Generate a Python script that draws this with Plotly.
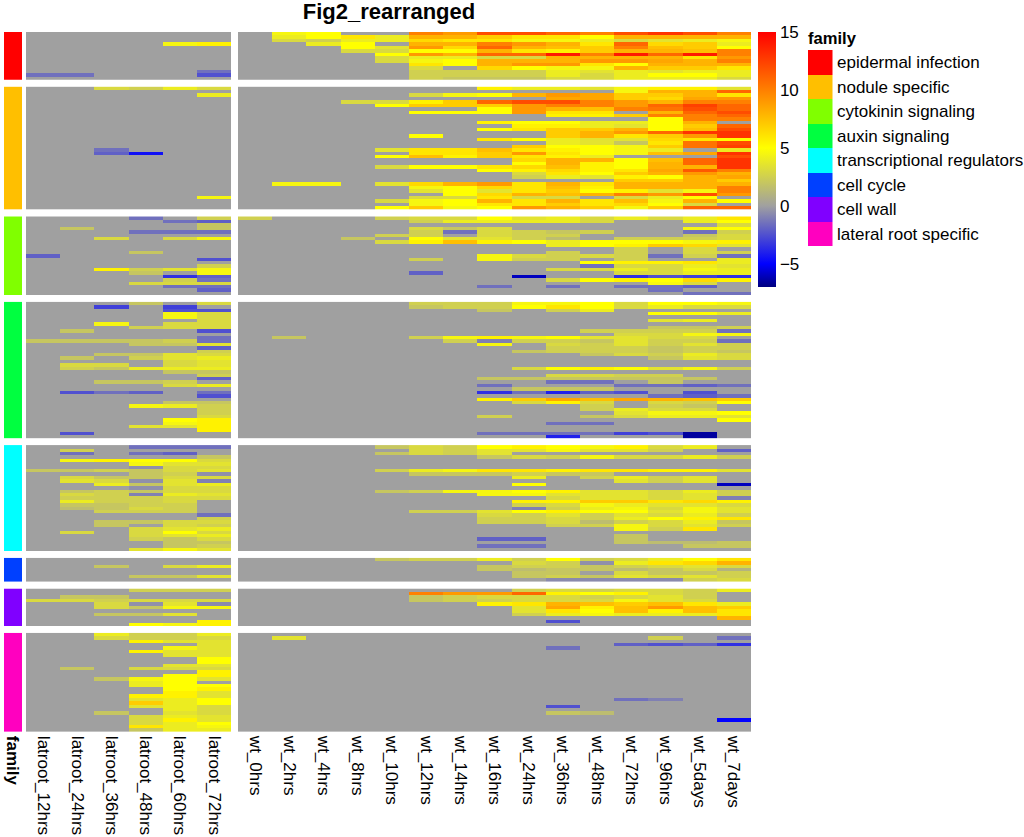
import plotly.graph_objects as go

lat_cols = ["latroot_12hrs","latroot_24hrs","latroot_36hrs","latroot_48hrs","latroot_60hrs","latroot_72hrs"]
wt_cols = ["wt_0hrs","wt_2hrs","wt_4hrs","wt_8hrs","wt_10hrs","wt_12hrs","wt_14hrs","wt_16hrs","wt_24hrs","wt_36hrs","wt_48hrs","wt_72hrs","wt_96hrs","wt_5days","wt_7days"]
families = ["epidermal infection","nodule specific","cytokinin signaling","auxin signaling","transcriptional regulators","cell cycle","cell wall","lateral root specific"]
family_colors = ["#FF0000","#FFBF00","#80FF00","#00FF40","#00FFFF","#0040FF","#8000FF","#FF00BF"]

lat_epidermal = [
[0,0,0,0,0,0],[0,0,0,0,0,0],[0,0,0,0,0,0],[0,0,0,0,4.5,5.5],[0,0,0,0,0,0],[0,0,0,0,0,0],[0,0,0,0,0,0],
[0,0,0,0,0,0],[0,0,0,0,0,0],[0,0,0,0,0,0],[0,0,0,0,0,0],[0,0,0,0,0,-1.5],[-1.5,-1.5,0,0,0,-2.5],[0,0,0,0,0,0]]
wt_epidermal = [
[0,4.5,5,0,0,10,9,12,12,11,10,12,13,12,10],
[0,4,5,6,4,8,8,7,6,6,5,8,8,8,8],
[0,3,2.5,4,4,6.5,6,6,4.5,4.5,4,3,3.5,4,4.5],
[0,0,4,5,0,8,8,10,9,8,6,11,6.5,7,4],
[0,0,0,5,3.5,9,6.5,11,8,7.5,7,10,7.5,7,5],
[0,0,0,3,3,5,5,8,6,5.5,7,8,8,7.5,10],
[0,0,0,0,5,9,8,11,11,14,10,14,11,14,10],
[0,0,0,0,3,4,4,3,3,8,8,8,8,6,9],
[0,0,0,0,3,4.5,5,8,8,8,9,9,8.5,8,10],
[0,0,0,0,0,6,5,8,9,9,6,5,8,8,8],
[0,0,0,0,0,3,0,6.5,5,4.5,4.5,8,7,7,6],
[0,0,0,0,0,2.5,2.5,2.5,2.5,4,3.5,4,3.5,4,4],
[0,0,0,0,0,2.5,2.5,2.5,2.5,4,3,4,5,5,4],
[0,0,0,0,0,2.5,2,2,2,3,3,4,4,4,3]]

lat_nodule = [[0,0,3,2.5,4,3],[0,0,0,0,0,0],[0,0,0,0,0,4]] + [[0,0,0,0,0,0] for _r in range(15)] + [[0,0,-1.5,0,0,0],[0,0,-2,-4.5,0,0]] + [[0,0,0,0,0,0] for _r in range(12)] + [[0,0,0,0,0,4.5]] + [[0,0,0,0,0,0] for _r in range(3)]
wt_nodule = [
[0,0,0,0,0,0,0,5.5,4,4,3.5,4.5,5.5,5.5,3.5],
[0,0,0,0,0,0,0,0,0,0,0,4.5,8,8,11],
[0,0,0,0,0,3,4.5,5,8,9,8.5,7,7,8,6],
[0,0,0,0,0,0,0,0,0,8.5,8.5,7,6.5,8.5,9],
[0,0,0,3,3,5.5,7,11,12,12,10,9,8,10,10],
[0,0,0,0,5,7,7,7,9,10,10,9,11,12.5,11],
[0,0,0,0,0,0,0,5,9,8,7.5,10,10.5,12,11],
[0,0,0,0,0,5,5,5,9,6,6,0,8,11,12],
[0,0,0,0,0,0,0,0,0,5.5,5.5,7,10,10,11],
[0,0,0,0,0,0,0,0,0,0,0,0,5,10,10],
[0,0,0,0,0,0,0,5.5,5,5,4,4,5,8,0],
[0,0,0,0,0,0,0,0,5.5,5.5,4,3.5,5,7,11],
[0,0,0,0,0,0,0,5,6,7,7,8,5,7.5,12],
[0,0,0,0,0,0,0,0,0,7,8,9,11,13,13],
[0,0,0,0,0,5,0,0,0,7,8,6,7,9,13],
[0,0,0,0,0,0,0,6,5,4,3.5,3.5,6.5,6,5],
[0,0,0,0,0,0,0,0,0,4,3.5,2,6,10.5,12],
[0,0,0,0,0,0,0,0,7,5,5,4.5,7,10.5,12.5],
[0,0,0,0,3.5,6,6,7.5,6,5.5,5,4.5,4,0,4],
[0,0,0,0,0,6,6,7,9,6,5,4.5,7.5,8.5,13],
[0,0,0,0,5,7.5,5.5,7,6,5.5,4,0,0,0,12],
[0,0,0,0,0,0,0,0,6.5,8,8,5,7.5,11,13],
[0,0,0,0,0,0,0,0,5,8,5.5,5,8,11,13],
[0,0,0,0,3,5,5,6,6.5,7.5,5.5,5,8,8,13],
[0,0,0,0,0,0,0,5,5.5,6.5,5.5,6,8.5,11.5,10],
[0,0,0,0,0,0,0,0,3,6,5,7,8,9,8],
[0,0,0,0,0,0,0,0,2.5,4,3.5,5.5,5,8,8.5],
[0,0,0,0,0,0,0,0,0,0,0,7,7,8,7],
[0,4.5,4.5,0,3.5,6.5,8,9,6,8,6,8,8,8,8],
[0,0,0,0,0,4.5,5,6.5,6,7.5,5.5,8,8,8,10],
[0,0,0,0,0,3.5,5,3.5,6,7,5,5.5,3.5,4.5,10],
[0,0,0,0,0,0,5,6.5,8,7.5,8,10,9,12,9],
[0,0,0,0,0,3,3,6,3,3,0,3,4,5,0],
[0,0,0,0,3,4.5,5,8,6,8,6,7.5,4.5,8,5],
[0,0,0,0,0,4.5,5,6,6,7,6,6.5,5,3,0],
[0,0,0,0,5,7,4.5,5,9,8,7,4.5,7,11,11]]

lat_cytokinin = [
[0,0,0,-1.5,0,2.5],[0,0,0,0,-1.5,-2],[0,0,0,0,0,2],[0,2,0,0,0,2],[0,0,0,-1.5,-1.5,-1.5],[0,0,0,0,0,0],
[0,0,3,0,3,4.5],[0,0,0,0,0,0],[0,0,0,0,0,0],[0,0,0,0,0,0],[0,0,0,2,0,0],[-2,0,0,0,0,0],
[0,0,0,0,0,-2.5],[0,0,0,0,0,0],[0,0,0,0,0,2.5],[0,0,5.5,2.5,3.5,4.5],[0,0,0,2,0,4.5],[0,0,0,0,-3.5,-2],
[0,0,0,0,2.5,-1.5],[0,0,0,3,3,3],[0,0,0,0,-1.5,-1.5],[0,0,0,0,0,-2],[0,0,0,0,0,0]]
wt_cytokinin = [
[2.5,0,0,0,2.5,3,3,5,3.5,4,3,4,3,4,6],
[0,0,0,0,0,2.5,4,4,4,4,3,0,0,4,5],
[0,0,0,0,0,0,0,0,0,0,0,0,0,0,3],
[0,0,0,0,0,3,2,3,0,0,0,0,0,4.5,5],
[0,0,0,0,0,2.5,-1.5,3,2.5,2,2.5,0,0,-1.5,2.5],
[0,0,0,0,2.5,2.5,0,3,2.5,2.5,0,0,0,2,3],
[0,0,0,2,0,5,3.5,3.5,2.5,1.5,0,2.5,2.5,2.5,3],
[0,0,0,0,3,5.5,7.5,5.5,5,4,5,5,5,4.5,5.5],
[0,0,0,0,0,0,0,0,0,4,5,5.5,7,6.5,3.5],
[0,0,0,0,0,0,0,0,0,0,0,2.5,0,3,0],
[0,0,0,0,0,0,0,0,0,2.5,0,2.5,0,3,2.5],
[0,0,0,0,0,0,0,4.5,3,2.5,3,2.5,-1.5,2.5,-1.5],
[0,0,0,0,0,2.5,0,4.5,2.5,2.5,0,2.5,0,0,4],
[0,0,0,0,0,0,0,0,0,0,5,5.5,5.5,6,4],
[0,0,0,0,0,0,0,0,0,0,-1.5,3,3,4,3.5],
[0,0,0,0,0,0,0,0,0,3,3,4,3,4.5,4],
[0,0,0,0,0,-2,0,0,0,0,0,3,3,4,4],
[0,0,0,0,0,0,0,0,-6,0,0,-3.5,-2.5,-3,-3.5],
[0,0,0,0,0,0,0,0,0,3,5,5.5,5,6.5,5.5],
[0,0,0,0,0,0,0,0,0,0,0,0,4.5,3,0],
[0,0,0,0,0,0,0,-1.5,0,-1.5,0,-1.5,-1.5,-2,0],
[0,0,0,0,0,0,0,0,0,0,0,0,-1.5,0,0],
[0,0,0,0,0,0,0,0,0,0,0,0,0,-1.5,-1.5]]

lat_auxin = [
[0,0,0,2,0,3],[0,0,-3,0,-3,0],[0,0,0,0,-2.5,-2.5],[0,0,0,0,4.5,3],[0,0,0,0,4.5,3],[0,0,0,0,0,3],
[0,0,4.5,0,3,3],[0,0,0,2.5,3,3],[0,2,0,0,0,-2.5],[0,0,0,0,0,0],[0,0,0,0,0,-1.5],[2,2,2,2,2.5,-1.5],
[0,0,0,2,2,3.5],[0,0,0,0,0,-2],[0,0,0,0,0,2.5],[0,0,2,2,3.5,3],[0,2,0,2.5,3.5,4],[0,0,0,0,3,3.5],
[0,3,3,0,3,3.5],[0,2.5,2,4,4,4],[0,0,0,0,2,2],[0,0,0,0,0,2.5],[0,0,0,0,0,-2],[0,0,2,2,2.5,0],
[0,0,0,0,3,4],[0,0,0,0,0,0],[0,-2.5,-1.5,-2,0,-1.5],[0,0,0,0,0,-2.5],[0,0,0,0,0,0],[0,0,0,0,2,2],
[0,0,0,4.5,4,2.5],[0,0,0,0,0,2.5],[0,0,0,0,0,2.5],[0,0,0,0,0,3],[0,0,0,0,5,5.5],[0,0,0,0,4.5,5.5],
[0,0,0,3.5,3.5,5.5],[0,0,0,0,0,5.5],[0,-2.5,0,0,0,0],[0,0,0,0,0,0]]
wt_auxin = [
[0,0,0,0,0,2.5,2.5,2.5,4.5,4.5,5,3,5,5,4.5],
[0,0,0,0,0,2,2.5,2.5,5,6,5,3,4,3,3],
[0,0,0,0,0,0,0,2,0,2.5,4,0,0,0,0],
[0,0,0,0,0,0,0,0,0,0,0,0,5,5,4],
[0,0,0,0,0,0,0,0,0,0,0,0,0,0,0],
[0,0,0,0,0,0,0,0,0,0,0,0,3.5,4,0],
[0,0,0,0,0,0,0,0,0,0,0,0,0,0,0],
[0,0,0,0,0,0,0,0,0,0,0,0,2,2,2.5],
[0,0,0,0,0,0,0,0,0,0,2.5,2.5,2.5,2.5,-1.5],
[0,0,0,0,0,0,0,0,0,0,0,3,3,4.5,4.5],
[0,2,0,0,0,2.5,4.5,5.5,4.5,5,3.5,3.5,3,3,0],
[0,0,0,0,0,0,2.5,-1,2.5,2.5,2,3.5,2.5,2.5,-1.5],
[0,0,0,0,0,0,0,4.5,0,3,2.5,3.5,2.5,3.5,2.5],
[0,0,0,0,0,0,0,0,0,2.5,2.5,2.5,2,2.5,2.5],
[0,0,0,0,0,0,0,0,2,2.5,2.5,2.5,2,2.5,2],
[0,0,0,0,0,0,0,0,0,0,2,3,2.5,4,3],
[0,0,0,0,0,0,0,0,0,0,0,0,2,3.5,3],
[0,0,0,0,0,0,0,0,0,0,0,0,0,0,0],
[0,0,0,0,0,0,0,0,0,0,0,0,0,0,0],
[0,0,0,0,0,0,0,0,3,5,5.5,5,3.5,4.5,2.5],
[0,0,0,0,0,0,0,0,0,0,0,0,0,0,0],
[0,0,0,0,0,0,0,0,0,3,3,2.5,2.5,0,0],
[0,0,0,0,0,0,0,2,2,2,2,2,2,2,0],
[0,0,0,0,0,0,0,0,0,-1.5,-1.5,0,2,0,0],
[0,0,0,0,0,0,0,-1.5,0,0,0,-1.5,-1.5,-2,-1.5],
[0,0,0,0,0,0,0,0,2,2,2,0,0,0,0],
[0,0,0,0,0,0,0,-3.5,-1.5,-4,-2,-2.5,0,-2.5,0],
[0,0,0,0,0,0,0,0,0,0,0,0,-1.5,-2,-1.5],
[0,0,0,0,0,0,0,5.5,7,8.5,7.5,8.5,8,7.5,7],
[0,0,0,0,0,0,0,0,3,5.5,3,0,3,2.5,5],
[0,0,0,0,0,0,0,0,0,0,2.5,0,2.5,2,0],
[0,0,0,0,0,0,0,0,0,0,2.5,4,3,3,0],
[0,0,0,0,0,0,0,0,0,0,0,3.5,4.5,4.5,5],
[0,0,0,0,0,0,0,2.5,0,0,2,3,4,4,3.5],
[0,0,0,0,0,0,0,0,0,0,0,0,0,0,5],
[0,0,0,0,0,0,0,0,0,-1.5,-1.5,0,0,0,0],
[0,0,0,0,0,0,0,0,0,0,0,0,0,0,0],
[0,0,0,0,0,0,0,0,0,0,0,0,0,0,0],
[0,0,0,0,0,0,0,-1.5,-1.5,-1.5,-1.5,-3,-2.5,-6.5,0],
[0,0,0,0,0,0,0,0,0,-4,0,0,0,-6.5,0]]

lat_transcription = [
[0,0,0,-1.5,-1.5,-1.5],[0,2.5,0,0,0,0],[0,-1.5,0,-1.5,-2,0],[0,0,0,0,0,2],[0,4.5,5.5,5,5,3],
[0,0,0,4.5,3.5,3.5],[0,0,0,-0.5,3,3],[2,2,2.5,2,3,3.5],[0,0,0,2,2.5,-0.5],[0,3,2,2,3,3],
[0,3.5,3,-0.5,3.5,-1],[0,0,4,2,3.5,4],[0,0,0,-0.5,3,3],[0,2,2.5,2,3,3],[0,3,2.5,-1,4,3.5],
[0,2.5,2.5,2.5,3,3],[0,4,2.5,2.5,3,0],[0,2,2,2.5,2.5,0],[0,1.5,2,3,2.5,0],[0,0,2.5,2.5,2.5,0],
[0,0,0,0,0,-1.5],[0,0,0,0,0,2.5],[0,0,2,2,3,3],[0,0,2,0,3,2.5],[0,0,0,3,3.5,4],
[0,3,0,3,5,3],[0,0,0,3,3.5,4],[0,0,0,2.5,2,3],[0,0,0,0,2,2],[0,0,0,0,2,2.5],[0,0,0,3.5,4.5,3.5]]
wt_transcription = [
[0,0,0,0,2,3,2.5,5,5.5,5,4.5,5.5,3,4,0],
[0,0,0,0,0,3,2.5,3.5,3.5,4.5,3.5,3.5,2.5,0,-2],
[0,0,0,0,2,3,2.5,3.5,0,0,0,0,0,0,0],
[0,0,0,0,0,0,0,2,3,2.5,4.5,3,3,4,2.5],
[0,0,0,0,0,0,0,0,0,0,0,0,0,0,0],
[0,0,0,0,0,0,0,0,0,0,0,0,0,0,0],
[0,0,0,0,0,0,0,0,0,0,0,0,0,0,0],
[0,0,0,0,2.5,4,4.5,6,6,5.5,6,6,5.5,5.5,3.5],
[0,0,0,0,0,2,2,2,2.5,2,2,0,0,0,0],
[0,0,0,0,0,0,0,0,4,0,2.5,4,2.5,3.5,0],
[0,0,0,0,0,0,0,0,0,0,0,3.5,2.5,3.5,0],
[0,0,0,0,0,0,0,0,5,0,0,0,0,0,-6],
[0,0,0,0,0,0,0,0,0,0,0,0,0,0,0],
[0,0,0,0,2,2.5,4.5,4.5,5,5.5,3.5,3.5,3,4,2.5],
[0,0,0,0,0,0,0,4.5,4.5,3.5,3.5,3.5,3,3.5,2.5],
[0,0,0,0,0,0,0,0,0,3,3.5,3.5,3,3.5,-1],
[0,0,0,0,0,0,0,0,5.5,5.5,7,7,6,6.5,5.5],
[0,0,0,0,0,0,0,0,2.5,3,4.5,4,3.5,3.5,3],
[0,0,0,0,0,0,0,0,-1,2.5,4,4.5,3,4.5,3.5],
[0,0,0,0,0,2.5,2.5,3.5,5,5.5,5,5,3.5,4.5,3.5],
[0,0,0,0,0,0,0,3,2.5,3.5,2.5,3.5,3,4,2.5],
[0,0,0,0,0,0,0,2.5,2.5,3,2.5,4,5,5.5,6],
[0,0,0,0,0,0,0,2.5,2.5,3,1.5,2.5,3,4,2],
[0,0,0,0,0,0,0,0,0,2.5,2.5,4.5,3,3.5,2.5],
[0,0,0,0,0,0,0,0,0,0,0,4.5,2.5,6,0],
[0,0,0,0,0,0,0,0,0,0,0,0,0,0,0],
[0,0,0,0,0,0,0,0,0,0,0,2,0,0,0],
[0,0,0,0,0,0,0,-2,-2,0,0,2,0,0,0],
[0,0,0,0,0,0,0,0,0,0,0,2,1.5,1.5,2],
[0,0,0,0,0,0,0,-1.5,-1.5,0,0,0,0,2,2],
[0,0,0,0,0,0,0,0,0,0,0,0,0,0,0]]

lat_cycle = [[0,0,0,0,0,0],[0,0,0,0,0,0],[0,0,2,0,3,4],[0,0,0,0,0,0],[0,0,0,0,0,0],[0,0,0,2,2,3.5],[0,0,0,0,0,0]]
wt_cycle = [
[0,0,0,0,2,2.5,2.5,4,2.5,5,2.5,3,4,5,6],
[0,0,0,0,0,0,0,0,3,2.5,-0.5,4,6,6.5,8],
[0,0,0,0,0,0,0,2,2.5,2.5,2,2.5,3,3.5,3],
[0,0,0,0,0,0,0,2,1.5,2,2,1.5,2,3,1],
[0,0,0,0,0,0,0,0,2,2,0,3,2,2,2.5],
[0,0,0,0,0,0,0,0,2,2.5,2,3.5,3,3.5,2.5],
[0,0,0,0,0,0,0,0,0,-0.7,-0.7,-0.7,-0.7,2.5,3]]

lat_wall = [
[0,0,0,2.5,2.5,2.5],[0,0,0,0,0,0],[0,2,2,0,0,0],[3,3,2.5,3,3,3],[0,0,3,-0.5,3.5,-0.7],[0,0,3,2,4.5,4.5],
[0,0,0,0,0,0],[0,0,2,2,3.5,0],[0,0,0,0,0,0],[0,0,0,0,0,5.5],[0,0,0,5,4.5,5.5]]
wt_wall = [
[0,0,0,0,0,0,0,0,2.5,3,2.5,3,3,2.5,4],
[0,0,0,0,0,10,9,9,11,5.5,5,5.5,3,2.5,0],
[0,0,0,0,0,2,2.5,3,3,3,2.5,3,3.5,2.5,0],
[0,0,0,0,0,2,2.5,2.5,3,3,3,4.5,3.5,3,0],
[0,0,0,0,0,0,0,5.5,6,8,7.5,7,7.5,6,4],
[0,0,0,0,0,0,0,0,3.5,8.5,5.5,7.5,9,7.5,7],
[0,0,0,0,0,0,0,0,3.5,6,5,7.5,5.5,7.5,6],
[0,0,0,0,0,0,0,0,2.5,4,4.5,4,4,4,6],
[0,0,0,0,0,0,0,0,0,0,0,0,0,0,8],
[0,0,0,0,0,0,0,0,0,-2.5,0,0,0,0,0],
[0,0,0,0,0,0,0,0,0,0,0,0,0,0,0]]

lat_lateral = [
[0,0,4,2.5,2.5,4],[0,0,3,2.5,2.5,3],[0,0,0,5.5,3.5,3.5],[0,0,0,0,0,3.5],[0,0,0,0,4.5,3.5],
[0,0,0,5.5,3.5,3.5],[0,0,0,0,3.5,3.5],[0,0,0,0,0,5],[0,0,0,0,0,5],[0,0,0,0,3.5,3.5],
[0,2,0,3,3,3],[0,0,0,0,0,5.5],[0,0,0,0,5,5.5],[0,0,2,4.5,5,3.5],[0,0,0,4,5,0],
[0,0,0,4,5,5],[0,0,0,0,5,5.5],[0,0,0,0,5.5,3.5],[0,0,0,5.5,5.5,3.5],[0,0,0,3.5,4,5],
[0,0,0,7,4,5],[0,0,0,3.5,4,3],[0,0,0,0,4,3],[0,0,2,0,3.5,3],[0,0,0,3,4,3.5],
[0,0,0,3,5.5,3.5],[0,0,0,3,4,5],[0,0,0,6,4,4.5],[0,0,0,2,4,4]]
wt_lateral = [[0]*15 for _r in range(29)]
wt_lateral[1] = [0,3.5,0,0,0,0,0,0,0,0,0,0,2.5,0,-1.5]
wt_lateral[3] = [0,0,0,0,0,0,0,0,0,0,0,-2,-2.5,-2,-3.5]
wt_lateral[4] = [0,0,0,0,0,0,0,0,0,-1.5,0,0,0,0,0]
wt_lateral[19] = [0,0,0,0,0,0,0,0,0,0,0,-1.5,-1,0,0]
wt_lateral[21] = [0,0,0,0,0,0,0,0,0,-2.5,0,0,0,0,0]
wt_lateral[23] = [0,0,0,0,0,0,0,0,0,2,1.5,0,0,0,0]
wt_lateral[25] = [0,0,0,0,0,0,0,0,0,0,0,0,0,0,-5]

lat_groups = [lat_epidermal, lat_nodule, lat_cytokinin, lat_auxin, lat_transcription, lat_cycle, lat_wall, lat_lateral]
wt_groups = [wt_epidermal, wt_nodule, wt_cytokinin, wt_auxin, wt_transcription, wt_cycle, wt_wall, wt_lateral]

W, H = 1024, 837
FONT = "Liberation Sans"
ROW_H, GAP, TOP = 3.415, 6.8, 32.0
CELL = 34.2
LAT_X0, WT_X0 = 26.0, 238.0
FAM_X = (4.0, 22.0)


def xd(a, b):
    return [a / W, b / W]


def yd(a, b):
    return [1 - b / H, 1 - a / H]


cs_heat = [
    [0.0, "#00007F"],
    [2 / 22, "#0000FF"],
    [7 / 22, "#A0A0A0"],
    [12 / 22, "#FFFF00"],
    [1.0, "#FF0000"],
]
disc = []
for i, c in enumerate(family_colors):
    disc += [[i / 8, c], [(i + 1) / 8, c]]

fig = go.Figure()
layout = {}
ax = [0]


def new_axes(xdom, ydom, xr, yr, tickvals=None, ticktext=None):
    ax[0] += 1
    n = ax[0]
    s = "" if n == 1 else str(n)
    layout["xaxis" + s] = dict(
        domain=xdom, range=xr, anchor="y" + s, fixedrange=True, showgrid=False, zeroline=False,
        showline=False, ticks="", showticklabels=tickvals is not None,
        tickmode="array", tickvals=tickvals or [], ticktext=ticktext or [], tickangle=90,
        ticklabelstandoff=3,
        tickfont=dict(family=FONT, size=17, color="#000000"),
    )
    layout["yaxis" + s] = dict(
        domain=ydom, range=yr, anchor="x" + s, fixedrange=True, showgrid=False, zeroline=False,
        showline=False, ticks="", showticklabels=False,
    )
    return "x" + s, "y" + s


y = TOP
for g, (lat, wt) in enumerate(zip(lat_groups, wt_groups)):
    n = len(lat)
    y1 = y + n * ROW_H
    last = g == len(lat_groups) - 1
    rows = list(range(n))
    yr = [n - 0.5, -0.5]

    # family strip
    xa, ya = new_axes(xd(*FAM_X), yd(y, y1), [-0.5, 0.5], yr,
                      [0] if last else None, ["<b>family</b>"] if last else None)
    fig.add_trace(go.Heatmap(z=[[g + 0.5] for _ in rows], x=[0], y=rows, xaxis=xa, yaxis=ya,
                             zmin=0, zmax=8, colorscale=disc, showscale=False, hoverinfo="skip"))
    # latroot block
    xa, ya = new_axes(xd(LAT_X0, LAT_X0 + CELL * 6), yd(y, y1), [-0.5, 5.5], yr,
                      list(range(6)) if last else None, lat_cols if last else None)
    fig.add_trace(go.Heatmap(z=lat, x=list(range(6)), y=rows, xaxis=xa, yaxis=ya, coloraxis="coloraxis"))
    # wt block
    xa, ya = new_axes(xd(WT_X0, WT_X0 + CELL * 15), yd(y, y1), [-0.5, 14.5], yr,
                      list(range(15)) if last else None, wt_cols if last else None)
    fig.add_trace(go.Heatmap(z=wt, x=list(range(15)), y=rows, xaxis=xa, yaxis=ya, coloraxis="coloraxis"))
    y = y1 + GAP

# legend swatches, drawn as a one-column heatmap
xa, ya = new_axes(xd(808, 832.5), yd(50, 246), [-0.5, 0.5], [7.5, -0.5])
fig.add_trace(go.Heatmap(z=[[i + 0.5] for i in range(8)], x=[0], y=list(range(8)), xaxis=xa, yaxis=ya,
                         zmin=0, zmax=8, colorscale=disc, showscale=False, hoverinfo="skip"))

annotations = [dict(text="<b>family</b>", xref="paper", yref="paper", x=808 / W, y=1 - 39 / H,
                    xanchor="left", yanchor="middle", showarrow=False, xshift=-2,
                    font=dict(family=FONT, size=16.6, color="#000000"))]
for i, name in enumerate(families):
    annotations.append(dict(text=name, xref="paper", yref="paper", x=837 / W, y=1 - (62.8 + 24.5 * i) / H,
                            xanchor="left", yanchor="middle", showarrow=False,
                            xshift=-2,
                            font=dict(family=FONT, size=17, color="#000000")))

fig.update_layout(
    width=W, height=H, margin=dict(l=0, r=0, t=0, b=0), paper_bgcolor="white", plot_bgcolor="white",
    showlegend=False,
    title=dict(text="<b>Fig2_rearranged</b>", x=389 / W, xanchor="center", y=1 - 11 / H, yanchor="middle",
               font=dict(family=FONT, size=22, color="#000000")),
    coloraxis=dict(
        cmin=-7, cmax=15, colorscale=cs_heat,
        colorbar=dict(
            x=758 / W, xanchor="left", xpad=0, y=1 - 32 / H, yanchor="top", ypad=0,
            len=255 / H, lenmode="fraction", thickness=18, thicknessmode="pixels",
            outlinewidth=0, borderwidth=0, ticks="", tickmode="array",
            tickvals=[-5, 0, 5, 10, 15], ticktext=["\u22125", "0", "5", "10", "15"],
            tickfont=dict(family=FONT, size=17, color="#000000"),
        ),
    ),
    annotations=annotations,
    **layout,
)

fig.write_html("out.html", config={"displayModeBar": False},
               post_script="document.body.style.margin='0';document.body.style.overflow='hidden';window.dispatchEvent(new Event('resize'));")
